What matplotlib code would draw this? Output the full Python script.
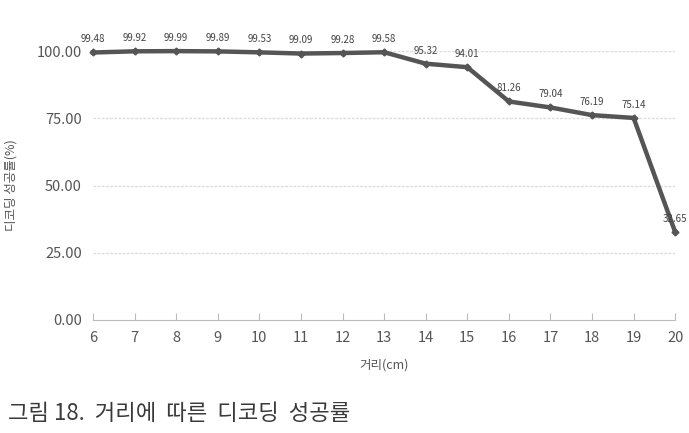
#!/usr/bin/env python3
"""거리에 따른 디코딩 성공률 line chart."""

import matplotlib.pyplot as plt

plt.rcParams['font.family'] = ['Liberation Sans Narrow', 'Noto Sans CJK KR', 'DejaVu Sans']
plt.rcParams['axes.unicode_minus'] = False

distance = [6, 7, 8, 9, 10, 11, 12, 13, 14, 15, 16, 17, 18, 19, 20]
success = [99.48, 99.92, 99.99, 99.89, 99.53, 99.09, 99.28, 99.58,
           95.32, 94.01, 81.26, 79.04, 76.19, 75.14, 32.65]
y_ticks = [0, 25, 50, 75, 100]

fig = plt.figure(figsize=(6.89, 4.33), dpi=100)
ax = fig.add_axes([0.135, 0.261, 0.845, 0.621])

ax.plot(distance, success, color='#555555', lw=3.2, marker='D', ms=3.5,
        mfc='#555555', mec='#555555', clip_on=False, zorder=3)

for x, y in zip(distance, success):
    ax.text(x, y + 3.0, f'{y:.2f}', ha='center', va='bottom',
            fontsize=7, color='#444')

ax.set_xlim(6, 20)
ax.set_ylim(0, 100)
ax.set_xticks(distance)
ax.set_yticks(y_ticks)
ax.set_yticklabels([f'{v:.2f}' for v in y_ticks])
ax.tick_params(axis='both', labelsize=10.5, colors='#555555', length=0, pad=8)
ax.tick_params(axis='x', length=5, direction='in', color='#bbbbbb')
for v in y_ticks[1:]:
    ax.axhline(v, color='#dddddd', lw=1, ls=(0, (2, 1)), zorder=1)

for side in ['top', 'right', 'left']:
    ax.spines[side].set_visible(False)
ax.spines['bottom'].set_color('#bbbbbb')

ax.set_xlabel('거리(cm)', fontsize=9, color='#555555', labelpad=10,
              family=['Noto Sans CJK KR', 'DejaVu Sans'])
ax.set_ylabel('디코딩 성공률(%)', fontsize=9, color='#555555', labelpad=14,
              family=['Noto Sans CJK KR', 'DejaVu Sans'])

fig.text(0.012, 0.03, '그림 18.  거리에  따른  디코딩  성공률', fontsize=16,
         color='#3a3a3a', family=['Noto Sans CJK KR', 'DejaVu Sans'])

fig.savefig('out.png', dpi=100, facecolor='white')
